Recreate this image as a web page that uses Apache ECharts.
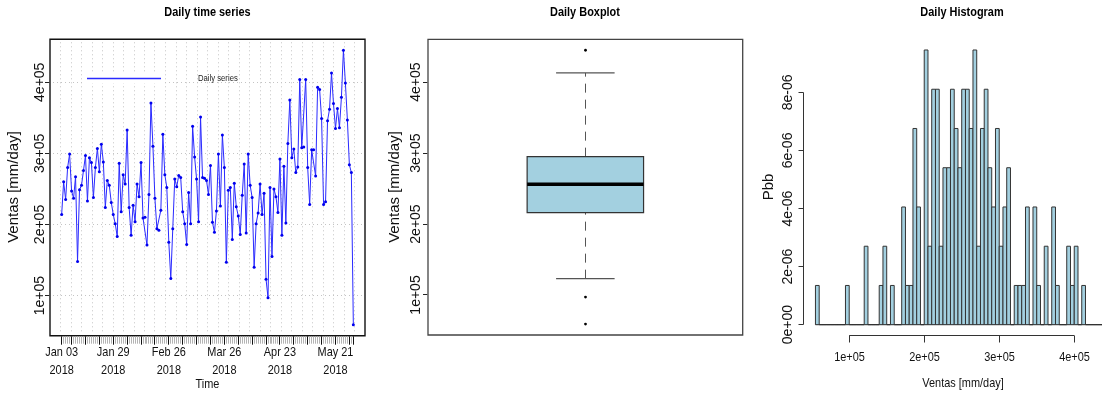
<!DOCTYPE html>
<html>
<head>
<meta charset="utf-8">
<script src="https://cdn.jsdelivr.net/npm/echarts@6/dist/echarts.min.js"></script>
<style>
  html, body { margin: 0; padding: 0; background: #fff; overflow: hidden; }
  #chart { width: 1130px; height: 396px; }
</style>
</head>
<body>
<div id="chart"></div>
<script>
// Daily sales from 2018-01-03, one value per day
const firstDay = Date.UTC(2018, 0, 3);
const dailySales = [
  214000, 260000, 235000, 280000, 299000, 247000, 237000, 267000, 148000, 249000,
  255000, 276000, 297000, 233000, 294000, 287000, 238000, 280000, 307000, 274000,
  313000, 288000, 224000, 262000, 255000, 231000, 214000, 201000, 183000, 286000,
  218000, 270000, 257000, 333000, 224000, 185000, 227000, 204000, 257000, 239000,
  287000, 209000, 210000, 171000, 242000, 371000, 310000, 237000, 194000, 192000,
  220000, 327000, 270000, 252000, 175000, 124000, 194000, 264000, 253000, 269000,
  266000, 218000, 201000, 172000, 245000, 201000, 338000, 295000, 264000, 204000,
  351000, 266000, 265000, 262000, 242000, 283000, 203000, 189000, 219000, 299000,
  226000, 326000, 280000, 147000, 248000, 252000, 179000, 258000, 225000, 212000,
  186000, 241000, 285000, 188000, 299000, 255000, 238000, 140000, 201000, 216000,
  257000, 214000, 244000, 123000, 97000, 252000, 155000, 250000, 239000, 217000,
  292000, 185000, 282000, 202000, 314000, 375000, 294000, 306000, 273000, 281000,
  404000, 308000, 309000, 404000, 280000, 228000, 305000, 305000, 268000, 393000,
  390000, 349000, 228000, 232000, 346000, 362000, 413000, 370000, 335000, 363000,
  336000, 379000, 445000, 399000, 347000, 284000, 273000, 59000
];
// Day offsets that carry a date label
const dateLabelDays = [0, 26, 54, 82, 110, 138];
const salesTicks = [100000, 200000, 300000, 400000];

// Boxplot summary: lower whisker, Q1, median, Q3, upper whisker
const boxStats = [123000, 216000, 256000, 295000, 413000];
const boxOutliers = [445000, 97000, 59000];

// Histogram of daily sales (counts per 5000-wide bin, first bin starts at 55000)
const histBinWidth = 5000;
const histStart = 55000;
const histCounts = [
  1, 0, 0, 0, 0, 0, 0, 0,
  1, 0, 0, 0, 0, 2, 0, 0,
  0, 1, 2, 0, 1, 0, 0, 3,
  1, 1, 5, 3, 0, 7, 2, 6,
  6, 2, 4, 4, 6, 5, 4, 6,
  6, 5, 7, 2, 5, 6, 4, 3,
  5, 2, 3, 4, 0, 1, 1, 1,
  3, 0, 3, 1, 0, 2, 0, 3,
  1, 0, 0, 2, 1, 2, 0, 1,
  0, 0, 0, 0, 0, 0, 1
];
const histXTicks = [100000, 200000, 300000, 400000];
const histYTicks = [0, 2e-6, 4e-6, 6e-6, 8e-6];

// ---------------------------------------------------------------
const FONT = '"Liberation Sans", Arial, sans-serif';
const SQUEEZE = 0.81;            // horizontal text is drawn slightly condensed
const H_SIZE = 13.5;
const MONTHS = ['Jan','Feb','Mar','Apr','May','Jun','Jul','Aug','Sep','Oct','Nov','Dec'];
const DAY_MS = 86400000;
const INK = '#111';

function sci(v) {
  if (v === 0) return '0e+00';
  const parts = v.toExponential(0).split('e');
  return parts[0] + 'e' + parts[1][0] + parts[1].slice(1).padStart(2, '0');
}
function dateLabel(d) {
  const t = new Date(firstDay + Math.round(d) * DAY_MS);
  return MONTHS[t.getUTCMonth()] + ' ' + String(t.getUTCDate()).padStart(2, '0') + '\n' + t.getUTCFullYear();
}
// R-style axis range: data range widened by 4% on each side
function widen(lo, hi) { const r = hi - lo; return [lo - 0.04 * r, hi + 0.04 * r]; }
const px = v => Math.round(v - 0.5) + 0.5;   // crisp 1px strokes

const nDays = dailySales.length;
const tsX = widen(0, nDays - 1);
const tsY = widen(Math.min(...dailySales), Math.max(...dailySales));

// weekly (Monday) ticks plus first and last day
const majorDays = [];
for (let i = 0; i < nDays; i++) {
  const wd = new Date(firstDay + i * DAY_MS).getUTCDay();
  if (i === 0 || i === nDays - 1 || wd === 1) majorDays.push(i);
}

const nObs = histCounts.reduce((a, b) => a + b, 0);
const histDensity = histCounts.map(c => c / (nObs * histBinWidth));
const histEnd = histStart + histCounts.length * histBinWidth;
const histX = widen(histStart, histEnd);
const maxDensity = Math.max(...histDensity);
const histY = [-0.04 * maxDensity, 1.04 * maxDensity];

const BOX_FILL = '#a3d0e0';

function seg(x1, y1, x2, y2, style) {
  return { type: 'line', shape: { x1: x1, y1: y1, x2: x2, y2: y2 }, style: style };
}
function hText(x, y, text, extra) {
  return { type: 'text', x: x, y: y, scaleX: SQUEEZE, z: 100,
           style: Object.assign({ text: text, align: 'center', verticalAlign: 'middle',
                                  fontSize: H_SIZE, fontFamily: FONT, fill: INK }, extra || {}) };
}

// grid lines, ticks and date labels of the time-series panel
function tsDecor(params, api) {
  const ch = [];
  const dot = { stroke: '#c4c4c4', lineWidth: 1, lineDash: [1, 3] };
  const top = api.coord([0, tsY[1]])[1], bottom = api.coord([0, tsY[0]])[1];
  const left = api.coord([tsX[0], 0])[0], right = api.coord([tsX[1], 0])[0];
  for (let k = 1; k < 30; k++) {
    const x = px(api.coord([tsX[0] + k * (tsX[1] - tsX[0]) / 30, 0])[0]);
    ch.push(seg(x, top + 3, x, bottom - 1.5, dot));
  }
  salesTicks.forEach(v => {
    const y = px(api.coord([0, v])[1]);
    ch.push(seg(left + 3, y, right - 1.5, y, dot));
    ch.push(seg(left - 5, y, left - 0.7, y, { stroke: '#222', lineWidth: 1 }));
  });
  for (let i = 0; i < nDays; i++) {
    const x = px(api.coord([i, 0])[0]);
    if (majorDays.indexOf(i) >= 0) ch.push(seg(x, bottom + 0.7, x, bottom + 9, { stroke: '#111', lineWidth: 1 }));
    else ch.push(seg(x, bottom + 0.7, x, bottom + 8, { stroke: '#b4b4b4', lineWidth: 1 }));
  }
  dateLabelDays.forEach(d => {
    const x = api.coord([d, 0])[0];
    ch.push(hText(x, bottom + 8, dateLabel(d), { verticalAlign: 'top', lineHeight: 18 }));
  });
  return { type: 'group', children: ch };
}

function boxRender(params, api) {
  const hb = 0.185, hc = 0.093;
  const [lw, q1, med, q3, uw] = boxStats;
  const c = (x, y) => api.coord([x, y]);
  const wStyle = { stroke: '#555', lineWidth: 1, lineDash: [9, 7] };
  const cStyle = { stroke: '#555', lineWidth: 1.2 };
  const cx = px(c(1, 0)[0]);
  const ch = [
    seg(cx, c(1, q3)[1], cx, c(1, uw)[1], wStyle),
    seg(cx, c(1, lw)[1], cx, c(1, q1)[1], wStyle),
    seg(c(1 - hc, uw)[0], c(1, uw)[1], c(1 + hc, uw)[0], c(1, uw)[1], cStyle),
    seg(c(1 - hc, lw)[0], c(1, lw)[1], c(1 + hc, lw)[0], c(1, lw)[1], cStyle)
  ];
  const a = c(1 - hb, q3), b = c(1 + hb, q1);
  ch.push({ type: 'rect', shape: { x: a[0], y: a[1], width: b[0] - a[0], height: b[1] - a[1] },
            style: { fill: BOX_FILL, stroke: '#333', lineWidth: 1.2 } });
  ch.push(seg(a[0], c(1, med)[1], b[0], c(1, med)[1], { stroke: '#000', lineWidth: 3.5 }));
  boxOutliers.forEach(v => {
    ch.push({ type: 'circle', shape: { cx: cx, cy: c(1, v)[1], r: 1.4 }, style: { fill: '#000' } });
  });
  // y ticks
  const left = c(0.5, 0)[0];
  salesTicks.forEach(v => {
    const y = px(c(1, v)[1]);
    ch.push(seg(left - 5, y, left - 0.7, y, { stroke: '#222', lineWidth: 1 }));
  });
  return { type: 'group', children: ch };
}

function histBar(params, api) {
  const a = api.coord([api.value(0), api.value(2)]), b = api.coord([api.value(1), 0]);
  return { type: 'rect', shape: { x: a[0], y: a[1], width: b[0] - a[0], height: b[1] - a[1] },
           style: { fill: BOX_FILL, stroke: '#333', lineWidth: 1 } };
}

// axes of the histogram: R draws them only across the tick range
function histDecor(params, api) {
  const s = { stroke: '#333', lineWidth: 1 };
  const c = (x, y) => api.coord([x, y]);
  const base = px(c(0, 0)[1]);
  const bottom = px(c(0, histY[0])[1]);
  const left = px(c(histX[0], 0)[0]);
  const ch = [
    seg(c(histStart, 0)[0], base, c(histEnd, 0)[0], base, s),
    seg(left, px(c(0, histYTicks[0])[1]), left, px(c(0, histYTicks[histYTicks.length - 1])[1]), s),
    seg(c(histXTicks[0], 0)[0], bottom, c(histXTicks[histXTicks.length - 1], 0)[0], bottom, s)
  ];
  histYTicks.forEach(v => { const y = px(c(0, v)[1]); ch.push(seg(left - 5, y, left, y, s)); });
  histXTicks.forEach(v => {
    const x = px(c(v, 0)[0]);
    ch.push(seg(x, bottom, x, bottom + 7, s));
    ch.push(hText(x, bottom + 21.5, sci(v)));
  });
  return { type: 'group', children: ch };
}

const vLabel = (ticks, margin) => ({
  customValues: ticks, formatter: sci, rotate: 90, margin: margin,
  fontSize: 14, fontFamily: FONT, color: INK
});
const hideAxis = { axisLine: { show: false }, axisTick: { show: false }, splitLine: { show: false } };

const chart = echarts.init(document.getElementById('chart'), null, { renderer: 'canvas' });
chart.setOption({
  animation: false,
  backgroundColor: '#fff',
  grid: [
    { left: 50, top: 39.3, width: 315, height: 296.4, show: true, borderColor: '#111', borderWidth: 1.4 },
    { left: 428, top: 39.3, width: 314.7, height: 295.7, show: true, borderColor: '#444', borderWidth: 1.3 },
    { left: 803.6, top: 39, width: 320, height: 296.7, show: false }
  ],
  xAxis: [
    Object.assign({ gridIndex: 0, type: 'value', min: tsX[0], max: tsX[1], axisLabel: { show: false } }, hideAxis),
    { gridIndex: 1, type: 'value', min: 0.5, max: 1.5, show: false },
    Object.assign({ gridIndex: 2, type: 'value', min: histX[0], max: histX[1], axisLabel: { show: false } }, hideAxis)
  ],
  yAxis: [
    Object.assign({ gridIndex: 0, type: 'value', min: tsY[0], max: tsY[1], axisLabel: vLabel(salesTicks, 3) }, hideAxis),
    Object.assign({ gridIndex: 1, type: 'value', min: tsY[0], max: tsY[1], axisLabel: vLabel(salesTicks, 5) }, hideAxis),
    Object.assign({ gridIndex: 2, type: 'value', min: histY[0], max: histY[1], axisLabel: vLabel(histYTicks, 8) }, hideAxis)
  ],
  series: [
    { type: 'custom', xAxisIndex: 0, yAxisIndex: 0, z: 1, clip: false, silent: true,
      data: [[0, 200000]], renderItem: tsDecor },
    { type: 'line', xAxisIndex: 0, yAxisIndex: 0, z: 3, name: 'Daily series',
      data: dailySales.map((v, i) => [i, v]),
      showSymbol: true, showAllSymbol: true, symbol: 'circle', symbolSize: 3,
      lineStyle: { color: '#2a2aff', width: 1 }, itemStyle: { color: '#0000ee' } },
    { type: 'custom', xAxisIndex: 1, yAxisIndex: 1, z: 3, clip: false, silent: true,
      data: [[1, boxStats[2]]], renderItem: boxRender },
    { type: 'custom', xAxisIndex: 2, yAxisIndex: 2, z: 2, clip: false, silent: true,
      data: [[0, 0]], renderItem: histDecor },
    { type: 'custom', xAxisIndex: 2, yAxisIndex: 2, z: 3, clip: false, silent: true,
      data: histDensity.map((d, i) => [histStart + i * histBinWidth, histStart + (i + 1) * histBinWidth, d]),
      renderItem: histBar }
  ],
  graphic: [
    hText(207.5, 12, 'Daily time series', { fontWeight: 'bold', fill: '#000' }),
    hText(585, 12, 'Daily Boxplot', { fontWeight: 'bold', fill: '#000' }),
    hText(962, 12, 'Daily Histogram', { fontWeight: 'bold', fill: '#000' }),
    { type: 'text', x: 14, y: 187, rotation: Math.PI / 2, style: { text: 'Ventas [mm/day]', align: 'center',
      verticalAlign: 'middle', fontSize: 15, fontFamily: FONT, fill: INK } },
    hText(207.5, 384, 'Time'),
    { type: 'text', x: 395, y: 187, rotation: Math.PI / 2, style: { text: 'Ventas [mm/day]', align: 'center',
      verticalAlign: 'middle', fontSize: 15, fontFamily: FONT, fill: INK } },
    { type: 'text', x: 769, y: 187, rotation: Math.PI / 2, style: { text: 'Pbb', align: 'center',
      verticalAlign: 'middle', fontSize: 15, fontFamily: FONT, fill: INK } },
    hText(963, 383, 'Ventas [mm/day]'),
    { type: 'rect', z: 99, shape: { x: 85, y: 74, width: 78, height: 9 }, style: { fill: '#fff' } },
    { type: 'line', z: 100, shape: { x1: 87, y1: 78.5, x2: 161, y2: 78.5 }, style: { stroke: '#2a2aff', lineWidth: 1.3 } },
    hText(198, 78, 'Daily series', { align: 'left', fontSize: 9.5, fill: '#222' })
  ]
});
</script>
</body>
</html>
